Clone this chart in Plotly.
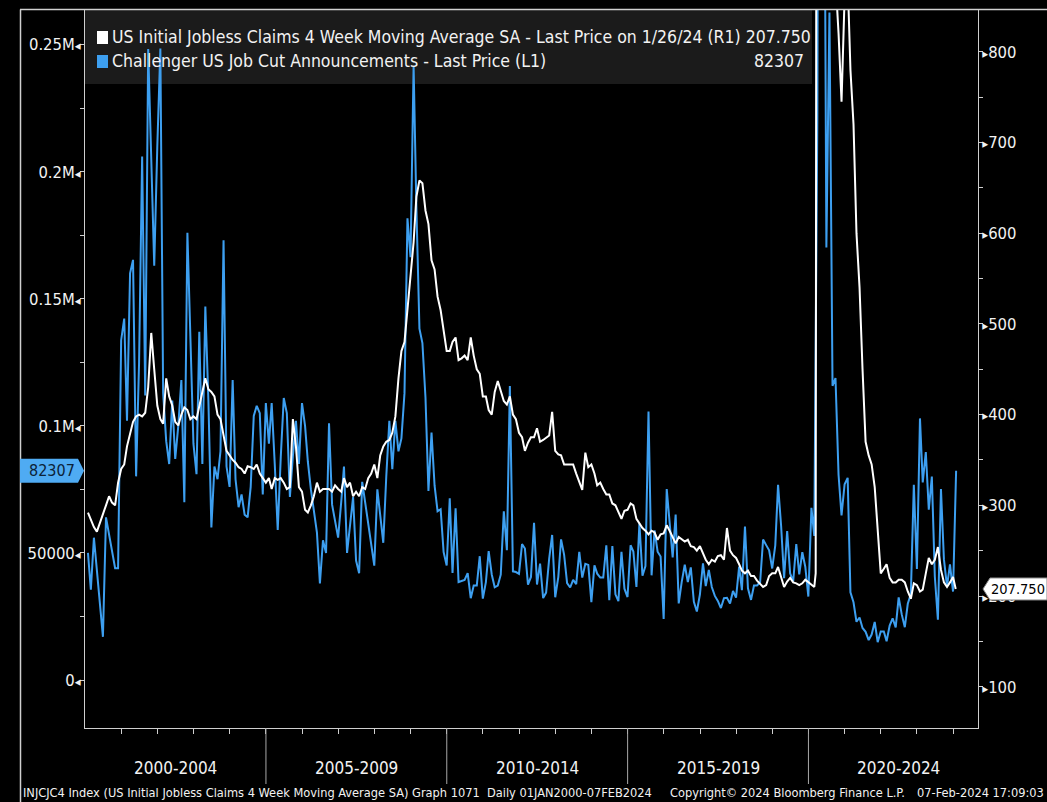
import pandas as pd
import plotly.graph_objects as go

# ---------------- data ----------------
# Challenger US Job Cut Announcements, monthly, Jan-2000 .. Jan-2024 (left axis)
job_cuts = [
    50000, 35500, 56000, 43000, 28000, 17000, 64000, 57000, 51000, 44000, 44000, 133713,      # 2000
    142208, 102000, 160000, 165322, 80140, 124852, 205996, 112000, 248332, 200000, 163000, 210000,  # 2001
    248475, 113000, 94000, 85000, 110000, 87000, 100000, 118000, 70000, 176010, 139000, 93000,  # 2002
    81000, 137000, 85000, 147000, 110000, 60000, 84000, 79000, 90000, 173000, 84000, 76000,     # 2003
    118000, 79000, 68000, 73000, 65000, 64000, 76000, 103925, 107863, 105000, 73000, 109000,   # 2004
    93000, 109000, 85000, 59000, 88000, 111000, 105000, 72000, 88000, 102000, 85000, 109000,   # 2005
    100000, 86000, 75000, 67000, 58000, 38000, 55000, 50000, 101000, 69000, 62000, 56000,      # 2006
    70000, 84000, 50000, 60000, 72000, 47000, 42000, 78000, 70000, 63000, 55000, 45000,        # 2007
    75000, 65000, 54000, 80000, 102000, 83000, 102000, 90000, 95094, 112884, 181671, 166348,   # 2008
    241749, 186350, 138246, 132590, 111182, 74393, 97373, 76456, 66404, 67212, 50349, 45094,   # 2009
    71482, 42090, 67611, 38540, 38810, 39358, 42039, 32188, 37151, 37151, 48711, 32004,        # 2010
    38519, 50702, 41528, 36490, 37135, 41432, 66414, 51114, 115730, 42759, 42474, 41785,       # 2011
    53486, 51728, 37551, 40559, 61887, 37551, 45774, 32239, 34392, 47724, 57081, 32556,        # 2012
    40430, 55356, 49255, 38121, 36398, 39372, 37701, 50462, 40289, 45730, 45314, 30623,        # 2013
    45107, 41835, 40298, 40298, 52961, 31434, 52696, 33701, 31017, 50462, 35940, 32640,        # 2014
    53041, 50579, 36594, 61582, 41034, 44842, 105696, 41186, 58877, 50504, 48594, 24000,       # 2015
    75114, 61599, 48207, 65141, 30157, 38536, 45346, 38536, 44324, 30740, 26936, 33627,        # 2016
    45934, 36957, 43310, 36602, 33092, 31105, 28307, 32183, 32346, 30120, 35038, 32423,        # 2017
    44653, 35369, 60357, 36081, 31517, 37202, 37202, 38472, 55285, 53073, 51010, 43884,        # 2018
    52988, 76835, 60587, 40023, 58577, 41977, 38845, 53480, 41557, 50275, 44569, 32843,        # 2019
    67735, 56660, 222288, 671129, 397016, 170219, 262649, 115762, 118804, 80666, 64797, 77030, # 2020
    79552, 34531, 30603, 22913, 24586, 20476, 18942, 15723, 17895, 22822, 14875, 19052,        # 2021
    19064, 15245, 21387, 24286, 20712, 32517, 25810, 20781, 29989, 33843, 76835, 43651,        # 2022
    102943, 77770, 89703, 66995, 80089, 40709, 23697, 75151, 47457, 36836, 45510, 34817,       # 2023
    82307,                                                                                     # 2024
]

# US Initial Jobless Claims 4 Week Moving Average SA (thousands), month-end readings, Jan-2000 .. Dec-2023 (right axis)
claims_4wk = [
    292, 284, 276, 271, 280, 290, 300, 310, 303, 300, 325, 340,     # 2000
    345, 365, 378, 392, 398, 400, 398, 402, 430, 490, 450, 410,     # 2001
    395, 390, 440, 420, 410, 392, 388, 400, 408, 405, 395, 398,     # 2002
    395, 410, 427, 440, 428, 425, 420, 400, 395, 378, 360, 355,     # 2003
    350, 347, 342, 340, 335, 343, 342, 340, 345, 335, 330, 325,     # 2004
    330, 318, 330, 328, 330, 325, 318, 320, 395, 365, 320, 315,     # 2005
    295, 292, 300, 310, 325, 315, 318, 318, 318, 315, 322, 318,     # 2006
    315, 330, 320, 325, 310, 315, 310, 320, 318, 330, 335, 345,     # 2007
    330, 355, 365, 370, 372, 380, 398, 440, 470, 480, 515, 560,     # 2008
    590, 640, 658, 655, 625, 610, 570, 560, 530, 515, 495, 470,     # 2009
    470, 480, 485, 460, 462, 465, 460, 485, 465, 450, 445, 420,     # 2010
    420, 405, 400, 425, 437, 425, 415, 411, 420, 400, 395, 380,     # 2011
    375, 360, 369, 375, 375, 385, 370, 372, 375, 377, 403, 360,     # 2012
    356, 355, 345, 345, 345, 345, 335, 325, 317, 358, 342, 345,     # 2013
    335, 322, 325, 318, 312, 312, 302, 300, 293, 285, 294, 295,     # 2014
    302, 300, 285, 280, 275, 272, 268, 272, 270, 262, 268, 269,     # 2015
    278, 272, 265, 258, 265, 262, 260, 262, 255, 254, 250, 255,     # 2016
    247, 240, 235, 240, 238, 244, 245, 240, 275, 250, 245, 242,     # 2017
    235, 228, 225, 228, 222, 222, 217, 213, 210, 212, 222, 225,     # 2018
    225, 232, 220, 210, 216, 220, 215, 214, 212, 214, 218, 215,     # 2019
    212, 210, 2650, 5500, 3000, 1550, 1350, 1050, 880, 820, 745, 860,  # 2020
    880, 780, 720, 600, 540, 450, 370, 355, 345, 320, 270, 225,     # 2021
    230, 235, 220, 215, 215, 218, 218, 215, 205, 197, 214, 212,     # 2022
    205, 207, 225, 242, 235, 240, 254, 229, 215, 210, 215, 221,     # 2023
]
# extra weekly readings at the March-2020 jump and the last print
claims_extra_dates = ["2020-03-14", "2020-03-21", "2024-01-27"]
claims_extra_vals = [225, 1000, 207.75]

left_tickvals = [0, 50000, 100000, 150000, 200000, 250000]
left_ticklabels = ["0", "50000", "0.1M", "0.15M", "0.2M", "0.25M"]
right_tickvals = [100, 200, 300, 400, 500, 600, 700, 800]
right_ticklabels = ["100", "200", "300", "400", "500", "600", "700", "800"]
period_labels = ["2000-2004", "2005-2009", "2010-2014", "2015-2019", "2020-2024"]
period_start_years = [2000, 2005, 2010, 2015, 2020]

legend_white = "US Initial Jobless Claims 4 Week Moving Average SA - Last Price on 1/26/24 (R1) 207.750"
legend_blue = "Challenger US Job Cut Announcements - Last Price (L1)"
last_cuts_label = "82307"
last_claims_label = "207.750"
footer_left = "INJCJC4 Index (US Initial Jobless Claims 4 Week Moving Average SA) Graph 1071  Daily 01JAN2000-07FEB2024"
footer_mid = "Copyright\u00a9 2024 Bloomberg Finance L.P."
footer_right = "07-Feb-2024 17:09:03"

# ---------------- build series ----------------
cuts_dates = pd.date_range("2000-01-01", periods=len(job_cuts), freq="MS") + pd.offsets.MonthEnd(0)
cl_dates = pd.date_range("2000-01-01", periods=len(claims_4wk), freq="MS") + pd.offsets.MonthEnd(0)
claims = pd.Series(claims_4wk, index=cl_dates)
claims = pd.concat([claims, pd.Series(claims_extra_vals, index=pd.to_datetime(claims_extra_dates))]).sort_index()

# ---------------- layout geometry ----------------
W, H = 1047, 802
L, R, T, B = 85, 978, 10, 728
PW, PH = R - L, B - T

def px_x(px):
    return (px - L) / PW

def px_y(py):
    return (B - py) / PH

FONT = "DejaVu Sans Condensed, DejaVu Sans, sans-serif"
BLUE = "#3d9ff0"
TXT = "#f2f2f2"
AX = "#cfcfcf"
TICK_SIZE = 16.5

fig = go.Figure()
fig.add_trace(go.Scatter(x=cuts_dates, y=job_cuts, mode="lines", yaxis="y",
                         line=dict(color=BLUE, width=2), name=legend_blue))
fig.add_trace(go.Scatter(x=claims.index, y=claims.values, mode="lines", yaxis="y2",
                         line=dict(color="#ffffff", width=2), name=legend_white))

tri_l = "<span style='font-size:13px'>\u25C2</span>"
tri_r = "<span style='font-size:13px'>\u25B8</span>"

fig.update_layout(
    width=W, height=H,
    margin=dict(l=L, r=W - R, t=T, b=H - B),
    paper_bgcolor="#000000", plot_bgcolor="#000000",
    showlegend=False,
    font=dict(family=FONT, color=TXT, size=TICK_SIZE),
    xaxis=dict(
        type="date", range=["2000-01-01", "2024-09-08"],
        showgrid=False, zeroline=False, showline=True, linecolor=AX, linewidth=1,
        tickmode="array", tickvals=[f"{y}-01-01" for y in range(2001, 2025)],
        ticks="outside", ticklen=5, tickcolor=AX, showticklabels=False,
    ),
    yaxis=dict(
        range=[-18889, 263655], side="left",
        showgrid=False, zeroline=False, showline=True, linecolor=AX, linewidth=1,
        tickmode="array", tickvals=left_tickvals,
        ticktext=[t + tri_l for t in left_ticklabels],
        ticks="", tickfont=dict(family=FONT, size=TICK_SIZE, color=TXT),
        minor=dict(dtick=25000, tick0=0, ticks="outside", ticklen=4, tickcolor=AX),
    ),
    yaxis2=dict(
        range=[54.5, 846], side="right", overlaying="y",
        showgrid=False, zeroline=False, showline=True, linecolor=AX, linewidth=1,
        tickmode="array", tickvals=right_tickvals,
        ticktext=[tri_r + t for t in right_ticklabels],
        ticks="", tickfont=dict(family=FONT, size=TICK_SIZE, color=TXT),
        minor=dict(dtick=50, tick0=0, ticks="outside", ticklen=4, tickcolor=AX),
    ),
)

shapes = []
# legend background box
shapes.append(dict(type="rect", xref="paper", yref="paper",
                   x0=px_x(85), x1=px_x(812), y0=px_y(84), y1=px_y(10),
                   fillcolor="#1b1b1b", line=dict(width=0), layer="below"))
# legend colour squares
shapes.append(dict(type="rect", xref="paper", yref="paper",
                   x0=px_x(97), x1=px_x(108), y0=px_y(44), y1=px_y(31),
                   fillcolor="#ffffff", line=dict(width=0)))
shapes.append(dict(type="rect", xref="paper", yref="paper",
                   x0=px_x(97), x1=px_x(108), y0=px_y(68), y1=px_y(55),
                   fillcolor=BLUE, line=dict(width=0)))
# outer frame lines
shapes.append(dict(type="line", xref="paper", yref="paper",
                   x0=px_x(20.5), x1=px_x(20.5), y0=px_y(9.5), y1=px_y(802),
                   line=dict(color=AX, width=1.5)))
shapes.append(dict(type="line", xref="paper", yref="paper",
                   x0=px_x(20), x1=px_x(1047), y0=px_y(9.5), y1=px_y(9.5),
                   line=dict(color=AX, width=1.5)))
# period separators
for yr in period_start_years[1:]:
    shapes.append(dict(type="line", xref="x", yref="paper",
                       x0=f"{yr}-01-01", x1=f"{yr}-01-01", y0=0, y1=px_y(784),
                       line=dict(color="#a8a8a8", width=1)))
# last-value tags
shapes.append(dict(type="path", xref="paper", yref="y", xsizemode="pixel", ysizemode="pixel",
                   xanchor=0, yanchor=job_cuts[-1],
                   path="M -65,-12 L -7,-12 L -1,0 L -7,12 L -65,12 Z",
                   fillcolor="#4fabf3", line=dict(width=0)))
shapes.append(dict(type="path", xref="paper", yref="y2", xsizemode="pixel", ysizemode="pixel",
                   xanchor=1, yanchor=claims_extra_vals[-1],
                   path="M 5,0 L 12,-11 L 69,-11 L 69,11 L 12,11 Z",
                   fillcolor="#ffffff", line=dict(color="#888888", width=1)))
fig.update_layout(shapes=shapes)

ann = []
for lab, yr in zip(period_labels, period_start_years):
    mid = pd.Timestamp(f"{yr}-01-01") + (pd.Timestamp(f"{yr + 5}-01-01") - pd.Timestamp(f"{yr}-01-01")) / 2
    ann.append(dict(x=mid, xref="x", y=px_y(768), yref="paper", text=lab, showarrow=False,
                    xanchor="center", yanchor="middle", font=dict(size=17, color=TXT, family=FONT)))
ann.append(dict(x=px_x(110), y=px_y(37), xref="paper", yref="paper", text=legend_white,
                showarrow=False, xanchor="left", yanchor="middle",
                font=dict(size=17.5, color=TXT, family=FONT)))
ann.append(dict(x=px_x(110), y=px_y(61), xref="paper", yref="paper", text=legend_blue,
                showarrow=False, xanchor="left", yanchor="middle",
                font=dict(size=17.5, color=TXT, family=FONT)))
ann.append(dict(x=px_x(806), y=px_y(61), xref="paper", yref="paper", text=last_cuts_label,
                showarrow=False, xanchor="right", yanchor="middle",
                font=dict(size=17.5, color=TXT, family=FONT)))
ann.append(dict(x=0, xref="paper", xshift=-8, y=job_cuts[-1], yref="y", text=last_cuts_label,
                showarrow=False, xanchor="right", yanchor="middle",
                font=dict(size=16, color="#0c2238", family=FONT)))
ann.append(dict(x=1, xref="paper", xshift=11, y=claims_extra_vals[-1], yref="y2", text=last_claims_label,
                showarrow=False, xanchor="left", yanchor="middle",
                font=dict(size=14.5, color="#000000", family=FONT)))
ann.append(dict(x=px_x(21), y=px_y(792), xref="paper", yref="paper", text=footer_left,
                showarrow=False, xanchor="left", yanchor="middle",
                font=dict(size=12.7, color=TXT, family=FONT)))
ann.append(dict(x=px_x(668), y=px_y(792), xref="paper", yref="paper", text=footer_mid,
                showarrow=False, xanchor="left", yanchor="middle",
                font=dict(size=12.7, color=TXT, family=FONT)))
ann.append(dict(x=px_x(1046), y=px_y(792), xref="paper", yref="paper", text=footer_right,
                showarrow=False, xanchor="right", yanchor="middle",
                font=dict(size=12.7, color=TXT, family=FONT)))
fig.update_layout(annotations=ann)

fig.write_html(
    "out.html",
    config={"displayModeBar": False},
    post_script="document.body.style.margin='0px';document.body.style.overflow='hidden';",
)
